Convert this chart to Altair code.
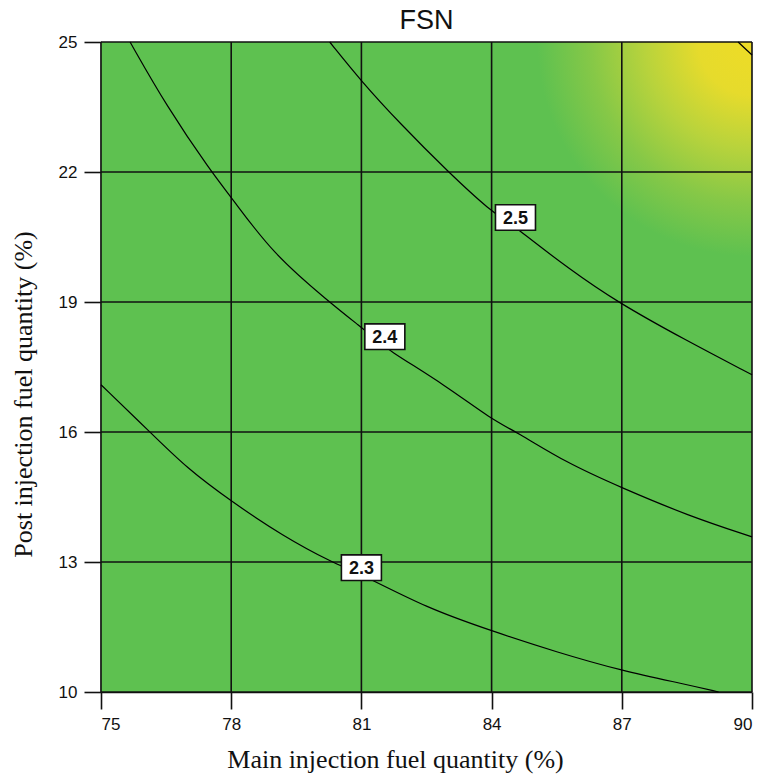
import altair as alt
import pandas as pd

# Axis ticks
x_ticks = [75, 78, 81, 84, 87, 90]
y_ticks = [10, 13, 16, 19, 22, 25]

# Contour lines of FSN over main / post injection fuel quantity
c23_x = [75.0, 76.13, 76.97, 78.0, 79.19, 80.34, 81.0, 82.52, 84.0, 85.5, 87.0, 88.46, 89.23]
c23_y = [17.09, 16.0, 15.17, 14.40, 13.6, 12.98, 12.72, 11.93, 11.41, 10.92, 10.49, 10.18, 10.0]

c24_x = [75.67, 76.51, 77.54, 78.0, 78.96, 80.26, 80.99, 81.3, 81.57, 82.95, 84.0, 84.58, 85.72, 87.0, 88.55, 90.0]
c24_y = [25.0, 23.52, 22.0, 21.42, 20.11, 19.0, 18.42, 18.17, 17.92, 17.07, 16.29, 16.0, 15.29, 14.71, 14.06, 13.58]

c25_x = [80.27, 81.0, 81.88, 83.0, 84.0, 84.35, 84.66, 85.79, 86.89, 88.47, 90.0]
c25_y = [25.0, 24.09, 23.13, 22.0, 21.08, 20.88, 20.63, 19.76, 19.0, 18.12, 17.32]

c26_x = [89.68, 90.0]
c26_y = [25.0, 24.7]

# Inline contour labels
lab_text = ["2.3", "2.4", "2.5"]
lab_x = [81.0, 81.54, 84.55]
lab_y = [12.87, 18.2, 20.95]

rows = []
for lvl, xs, ys in [("2.3", c23_x, c23_y), ("2.4", c24_x, c24_y),
                    ("2.5", c25_x, c25_y), ("2.6", c26_x, c26_y)]:
    for i, (a, b) in enumerate(zip(xs, ys)):
        rows.append({"level": lvl, "x": a, "y": b, "i": i})
lines_df = pd.DataFrame(rows)
labels_df = pd.DataFrame({"t": lab_text, "x": lab_x, "y": lab_y})
bg_df = pd.DataFrame({"x0": [75], "x1": [90], "y0": [10], "y1": [25]})
vgrid_df = pd.DataFrame({"x": x_ticks})
hgrid_df = pd.DataFrame({"y": y_ticks})

xscale = alt.Scale(domain=[75, 90], nice=False, zero=False)
yscale = alt.Scale(domain=[10, 25], nice=False, zero=False)
xaxis = alt.Axis(values=x_ticks, title="Main injection fuel quantity (%)", grid=False)
yaxis = alt.Axis(values=y_ticks, title="Post injection fuel quantity (%)", grid=False)

GREEN = "#5ec150"

surface = alt.Chart(bg_df).mark_rect(
    fill=alt.RadialGradient(
        gradient="radial",
        x1=1, y1=0, r1=0,
        x2=1, y2=0, r2=0.33,
        stops=[
            alt.GradientStop(offset=0.0, color="#eedc26"),
            alt.GradientStop(offset=0.25, color="#e6db2c"),
            alt.GradientStop(offset=0.5, color="#b8d33c"),
            alt.GradientStop(offset=0.75, color="#86c847"),
            alt.GradientStop(offset=1.0, color=GREEN),
        ],
    )
).encode(
    x=alt.X("x0:Q", scale=xscale, axis=xaxis),
    x2="x1:Q",
    y=alt.Y("y0:Q", scale=yscale, axis=yaxis),
    y2="y1:Q",
)

vgrid = alt.Chart(vgrid_df).mark_rule(color="#111111", strokeWidth=1.6).encode(
    x=alt.X("x:Q", scale=xscale, axis=xaxis)
)
hgrid = alt.Chart(hgrid_df).mark_rule(color="#111111", strokeWidth=1.6).encode(
    y=alt.Y("y:Q", scale=yscale, axis=yaxis)
)

contours = alt.Chart(lines_df).mark_line(
    color="#000000", strokeWidth=1.2, interpolate="basis"
).encode(
    x=alt.X("x:Q", scale=xscale, axis=xaxis),
    y=alt.Y("y:Q", scale=yscale, axis=yaxis),
    detail="level:N",
    order="i:Q",
)

boxes = alt.Chart(labels_df).mark_point(
    shape="M -1,-0.64 L 1,-0.64 L 1,0.64 L -1,0.64 Z",
    size=1600, filled=True, fill="white", stroke="#111111", strokeWidth=1.6, opacity=1,
).encode(
    x=alt.X("x:Q", scale=xscale, axis=xaxis),
    y=alt.Y("y:Q", scale=yscale, axis=yaxis),
)

texts = alt.Chart(labels_df).mark_text(
    font="Liberation Sans", fontSize=18, fontWeight="bold", color="#111111",
    align="center", baseline="middle", dy=1,
).encode(
    x=alt.X("x:Q", scale=xscale, axis=xaxis),
    y=alt.Y("y:Q", scale=yscale, axis=yaxis),
    text="t:N",
)

chart = alt.layer(surface, vgrid, hgrid, contours, boxes, texts).properties(
    width=651,
    height=650,
    autosize="none",
    padding={"left": 101, "top": 42, "right": 11, "bottom": 87},
    title=alt.TitleParams(
        "FSN", font="Liberation Sans", fontSize=27, fontWeight="normal",
        color="#111111", anchor="middle", offset=-2,
    ),
).configure_view(stroke=None).configure_axis(
    domainColor="#111111", domainWidth=1.6,
    tickColor="#111111", tickWidth=1.6, tickSize=17,
    labelFont="Liberation Sans", labelFontSize=17, labelColor="#111111",
    labelPadding=7,
    titleFont="Liberation Serif", titleFontSize=26, titleFontWeight="normal",
    titleColor="#111111",
).configure_axisX(titlePadding=14, titleX=294).configure_axisY(titlePadding=22, titleY=352)

chart.save("out.html", embed_options={"renderer": "svg", "actions": False})
